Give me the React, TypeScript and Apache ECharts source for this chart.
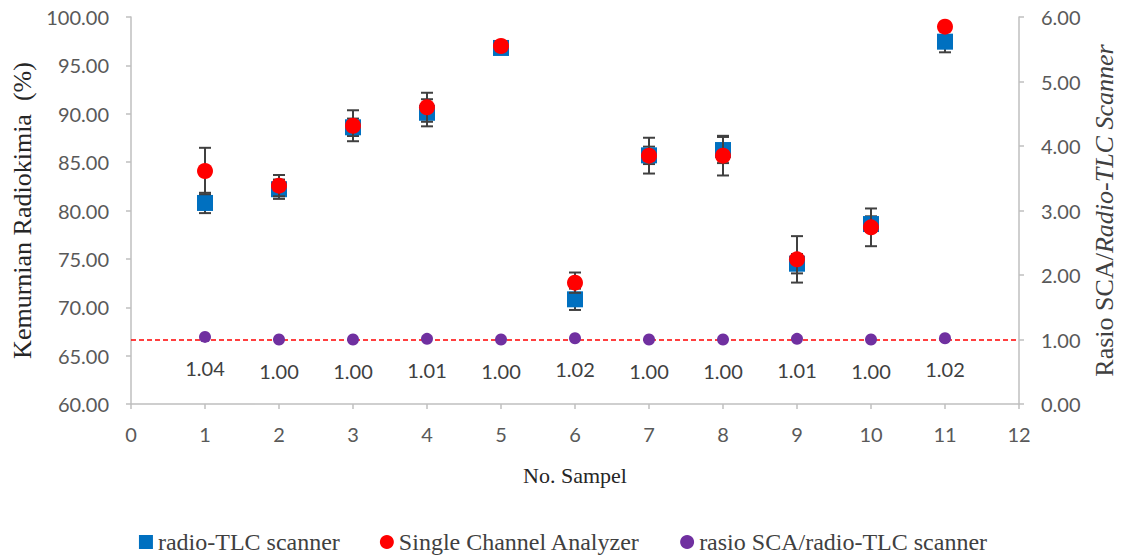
import React, { useEffect, useRef } from "react";
import * as echarts from "echarts";

const samples = [1, 2, 3, 4, 5, 6, 7, 8, 9, 10, 11];
const tlcValues = [80.78, 82.2, 88.6, 90.1, 96.8, 70.82, 85.7, 86.25, 74.5, 78.6, 97.45];
const tlcErrors = [1.05, 1.0, 0.9, 1.4, 0.5, 1.1, 0.9, 1.35, 1.0, 0.8, 1.1];
const scaValues = [84.08, 82.57, 88.76, 90.67, 97.0, 72.54, 85.67, 85.67, 74.95, 78.26, 99.0];
const scaErrors = [2.4, 1.1, 1.6, 1.5, 0.5, 1.05, 1.85, 2.05, 2.4, 1.95, 0.4];
const ratioValues = [1.04, 1.0, 1.0, 1.01, 1.0, 1.02, 1.0, 1.0, 1.01, 1.0, 1.02];
const referenceRatio = 1.0;

const SERIF = "'Liberation Serif', 'Times New Roman', serif";
const SANS = "Lato, 'Noto Sans', sans-serif";

function errorRender(params: any, api: any) {
  const x = api.value(0);
  const y = api.value(1);
  const e = api.value(2);
  const hi = api.coord([x, y + e]);
  const lo = api.coord([x, y - e]);
  const half = 6;
  const style = { stroke: "#404040", lineWidth: 2 };
  return {
    type: "group",
    children: [
      { type: "line", shape: { x1: hi[0], y1: hi[1], x2: lo[0], y2: lo[1] }, style },
      { type: "line", shape: { x1: hi[0] - half, y1: hi[1], x2: hi[0] + half, y2: hi[1] }, style },
      { type: "line", shape: { x1: lo[0] - half, y1: lo[1], x2: lo[0] + half, y2: lo[1] }, style },
    ],
  };
}

export default function App() {
  const ref = useRef<HTMLDivElement>(null);
  useEffect(() => {
    document.body.style.margin = "0";
    if (!ref.current) return;
    const chart = echarts.init(ref.current, null, { renderer: "svg" });
    const axisLine = { show: true, lineStyle: { color: "#BFBFBF", width: 1.5 } };
    const axisTick = { show: true, length: 5, lineStyle: { color: "#BFBFBF", width: 1.5 } };
    const labelStyle = { color: "#595959", fontSize: 20, fontFamily: SANS };
    chart.setOption({
      animation: false,
      backgroundColor: "#ffffff",
      grid: { left: 131, right: 107, top: 17, bottom: 156 },
      legend: {
        bottom: 1,
        left: "center",
        itemGap: 40,
        itemWidth: 14,
        itemHeight: 14,
        textStyle: { fontFamily: SERIF, fontSize: 24, color: "#404040" },
        data: [
          { name: "radio-TLC scanner", icon: "rect" },
          { name: "Single Channel Analyzer", icon: "circle" },
          { name: "rasio SCA/radio-TLC scanner", icon: "circle" },
        ],
      },
      xAxis: {
        type: "value",
        min: 0,
        max: 12,
        interval: 1,
        name: "No. Sampel",
        nameLocation: "middle",
        nameGap: 60,
        nameTextStyle: { fontFamily: SERIF, fontSize: 22, color: "#262626" },
        axisLine,
        axisTick,
        splitLine: { show: false },
        axisLabel: { ...labelStyle, margin: 20 },
      },
      yAxis: [
        {
          type: "value",
          min: 60,
          max: 100,
          interval: 5,
          name: "Kemurnian Radiokimia  (%)",
          nameLocation: "middle",
          nameGap: 96,
          nameTextStyle: { fontFamily: SERIF, fontSize: 26, color: "#262626" },
          axisLine,
          axisTick,
          splitLine: { show: false },
          axisLabel: { ...labelStyle, margin: 22, formatter: (v: number) => v.toFixed(2) },
        },
        {
          type: "value",
          position: "right",
          min: 0,
          max: 6,
          interval: 1,
          name: "Rasio SCA/{i|Radio-TLC Scanner}",
          nameLocation: "middle",
          nameGap: 72,
          nameTextStyle: {
            fontFamily: SERIF,
            fontSize: 26,
            color: "#404040",
            rich: { i: { fontFamily: SERIF, fontSize: 26, fontStyle: "italic", color: "#404040" } },
          },
          axisLine,
          axisTick,
          splitLine: { show: false },
          axisLabel: { ...labelStyle, margin: 22, formatter: (v: number) => v.toFixed(2) },
        },
      ],
      series: [
        {
          name: "tlc-err",
          type: "custom",
          renderItem: errorRender,
          data: samples.map((s, i) => [s, tlcValues[i], tlcErrors[i]]),
          z: 2,
          silent: true,
        },
        {
          name: "radio-TLC scanner",
          type: "scatter",
          symbol: "rect",
          symbolSize: 16,
          itemStyle: { color: "#0070C0", opacity: 1 },
          data: samples.map((s, i) => [s, tlcValues[i]]),
          z: 3,
        },
        {
          name: "sca-err",
          type: "custom",
          renderItem: errorRender,
          data: samples.map((s, i) => [s, scaValues[i], scaErrors[i]]),
          z: 4,
          silent: true,
        },
        {
          name: "Single Channel Analyzer",
          type: "scatter",
          symbol: "circle",
          symbolSize: 16,
          itemStyle: { color: "#FF0000", opacity: 1 },
          data: samples.map((s, i) => [s, scaValues[i]]),
          z: 5,
        },
        {
          name: "rasio SCA/radio-TLC scanner",
          type: "scatter",
          yAxisIndex: 1,
          symbol: "circle",
          symbolSize: 12,
          itemStyle: { color: "#7030A0", opacity: 1 },
          data: samples.map((s, i) => [s, ratioValues[i]]),
          z: 6,
          label: {
            show: true,
            position: "bottom",
            distance: 15,
            formatter: (p: any) => Number(p.value[1]).toFixed(2),
            fontFamily: SANS,
            fontSize: 20,
            color: "#404040",
          },
          markLine: {
            silent: true,
            symbol: "none",
            label: { show: false },
            lineStyle: { color: "#FF0000", type: [5, 3], width: 1.5 },
            data: [{ yAxis: referenceRatio }],
          },
        },
      ],
    });
    return () => chart.dispose();
  }, []);
  return <div ref={ref} style={{ width: 1126, height: 560 }} />;
}
